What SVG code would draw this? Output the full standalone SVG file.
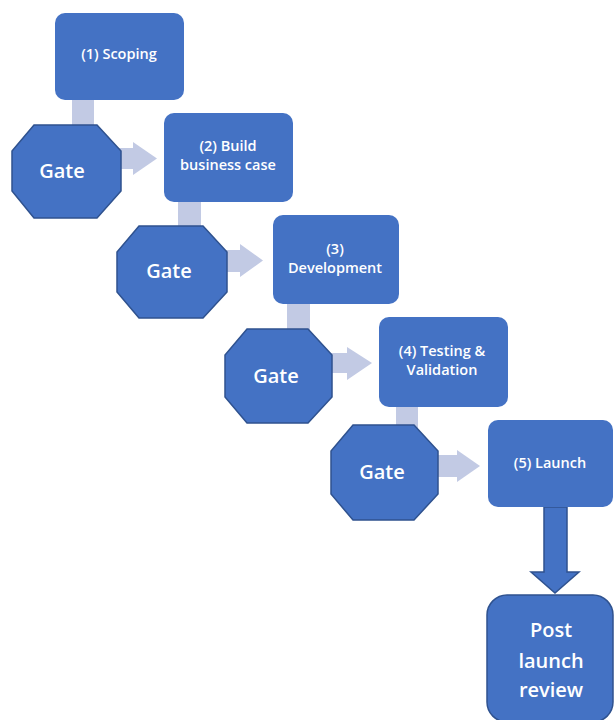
<svg xmlns="http://www.w3.org/2000/svg" width="614" height="720" viewBox="0 0 614 720">
<style>
.box{fill:#4472C4;}
.oct{fill:#4472C4;stroke:#2F528F;stroke-width:1.5;}
.conn{fill:#C2CAE4;}
.t{font-family:"Open Sans","Liberation Sans",sans-serif;fill:#FFFFFF;text-anchor:middle;}
.s{font-size:14.5px;font-weight:600;}
.g{font-size:20px;font-weight:600;}
.p{font-size:20px;font-weight:600;}
</style>
<rect width="614" height="720" fill="#FFFFFF"/>
<g id="connectors">
<rect class="conn" x="72" y="99" width="22" height="40"/>
<rect class="conn" x="178" y="201" width="23" height="40"/>
<rect class="conn" x="287" y="303" width="23" height="40"/>
<rect class="conn" x="396" y="406" width="22" height="40"/>
<polygon class="conn" points="115,148 133,148 133,142 157,158.5 133,175 133,169 115,169"/>
<polygon class="conn" points="220,250 240,250 240,244 263,260.5 240,277 240,272 220,272"/>
<polygon class="conn" points="326,353 347,353 347,347 372,363 347,380 347,373 326,373"/>
<polygon class="conn" points="432,455 457,455 457,450 480,466 457,482 457,477 432,477"/>
<polygon fill="#4472C4" stroke="#2F528F" stroke-width="1.5" points="544,507 567,507 567,572 579,572 555,593 531,572 544,572"/>
</g>
<g id="box1"><rect class="box" x="55" y="13" width="129" height="87" rx="10"/><text class="t s" x="119" y="59">(1) Scoping</text></g>
<g id="box2"><rect class="box" x="164" y="113" width="129" height="89" rx="10"/><text class="t s" x="228" y="151">(2) Build</text><text class="t s" x="228" y="170">business case</text></g>
<g id="box3"><rect class="box" x="273" y="215" width="126" height="89" rx="10"/><text class="t s" x="335" y="254">(3)</text><text class="t s" x="335" y="273">Development</text></g>
<g id="box4"><rect class="box" x="379" y="317" width="129" height="90" rx="10"/><text class="t s" x="442" y="356">(4) Testing &amp;</text><text class="t s" x="442" y="375">Validation</text></g>
<g id="box5"><rect class="box" x="488" y="420" width="125" height="87" rx="10"/><text class="t s" x="550" y="468">(5) Launch</text></g>
<g id="gate1"><polygon class="oct" points="34,125 97,125 121,151 121,191 97,218 34,218 12,191 12,151"/><text class="t g" x="62" y="178">Gate</text></g>
<g id="gate2"><polygon class="oct" points="139,226 203,226 227,252 227,292 203,318 139,318 117,292 117,252"/><text class="t g" x="169" y="278">Gate</text></g>
<g id="gate3"><polygon class="oct" points="247,329 308,329 332,355 332,397 308,423 247,423 225,397 225,355"/><text class="t g" x="276" y="383">Gate</text></g>
<g id="gate4"><polygon class="oct" points="353,425 414,425 438,451 438,494 414,520 353,520 331,494 331,451"/><text class="t g" x="382" y="479">Gate</text></g>
<g id="review"><rect x="487" y="595" width="126" height="127" rx="20" fill="#4472C4" stroke="#2F528F" stroke-width="1.5"/><text class="t p" x="551" y="637">Post</text><text class="t p" x="551" y="668">launch</text><text class="t p" x="551" y="697">review</text></g>
</svg>
